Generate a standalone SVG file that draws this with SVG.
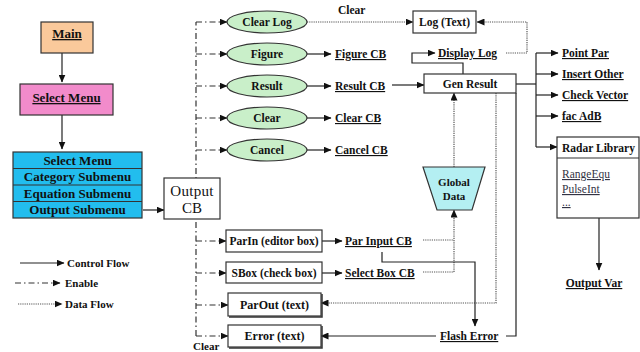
<svg xmlns="http://www.w3.org/2000/svg" width="640" height="352" viewBox="0 0 640 352">
<style>
text{font-family:"Liberation Serif","Times New Roman",serif;fill:#111;}
.b{font-weight:bold;font-size:11.5px;}
.u{text-decoration:underline;}
.m{text-anchor:middle;}
.box{fill:#fff;stroke:#333;stroke-width:1.2;}
.ctl{fill:none;stroke:#222;stroke-width:1.2;}
.en{fill:none;stroke:#333;stroke-width:1.2;stroke-dasharray:6,3,1.5,3;}
.df{fill:none;stroke:#555;stroke-width:1.2;stroke-dasharray:1.2,1;}
.ell{fill:#c9efc9;stroke:#333;stroke-width:1.2;}
.item{font-size:11.5px;fill:#334;text-decoration:underline;}
</style>
<defs>
<marker id="ah" markerWidth="8" markerHeight="7" refX="7.5" refY="3.5" orient="auto" markerUnits="userSpaceOnUse">
<path d="M0,0 L8,3.5 L0,7 Z" fill="#111"/>
</marker>
</defs>
<rect width="640" height="352" fill="#fff"/>

<g id="connectors">
<path class="ctl" d="M62,53 V82" marker-end="url(#ah)"/>
<path class="ctl" d="M62,115 V149" marker-end="url(#ah)"/>
<path class="ctl" d="M143,210 H164" marker-end="url(#ah)"/>
<path class="en" d="M196,336 V22"/>
<path class="en" d="M196,22 H227" marker-end="url(#ah)"/>
<path class="en" d="M196,54 H227" marker-end="url(#ah)"/>
<path class="en" d="M196,86 H227" marker-end="url(#ah)"/>
<path class="en" d="M196,118 H227" marker-end="url(#ah)"/>
<path class="en" d="M196,150 H227" marker-end="url(#ah)"/>
<path class="en" d="M196,241 H226" marker-end="url(#ah)"/>
<path class="en" d="M196,273 H226" marker-end="url(#ah)"/>
<path class="en" d="M196,305 H228" marker-end="url(#ah)"/>
<path class="en" d="M196,336 H228" marker-end="url(#ah)"/>
<path class="df" d="M307,22 H413" marker-end="url(#ah)"/>
<path class="ctl" d="M307,54 H331" marker-end="url(#ah)"/>
<path class="ctl" d="M307,86 H331" marker-end="url(#ah)"/>
<path class="ctl" d="M307,118 H331" marker-end="url(#ah)"/>
<path class="ctl" d="M307,150 H331" marker-end="url(#ah)"/>
<path class="ctl" d="M392,85 H424" marker-end="url(#ah)"/>
<path class="ctl" d="M463,74 V63 H412 V53 H435" marker-end="url(#ah)"/>
<path class="df" d="M506,53 H527 V22 H477" marker-end="url(#ah)"/>
<path class="ctl" d="M516,84 H536"/>
<path class="ctl" d="M536,53 V147"/>
<path class="ctl" d="M536,53 H558" marker-end="url(#ah)"/>
<path class="ctl" d="M536,74 H558" marker-end="url(#ah)"/>
<path class="ctl" d="M536,95 H558" marker-end="url(#ah)"/>
<path class="ctl" d="M536,116 H558" marker-end="url(#ah)"/>
<path class="ctl" d="M536,147 H557" marker-end="url(#ah)"/>
<path class="ctl" d="M599,218 V270" marker-end="url(#ah)"/>
<path class="df" d="M454,167 V93" marker-end="url(#ah)"/>
<path class="df" d="M454,272 V210" marker-end="url(#ah)"/>
<path class="df" d="M423,240 H454"/>
<path class="df" d="M423,272 H454"/>
<path class="df" d="M496,93 V303 H321" marker-end="url(#ah)"/>
<path class="ctl" d="M516,93 V336 H506"/>
<path class="ctl" d="M436,336 H321" marker-end="url(#ah)"/>
<path class="ctl" d="M382,252 V262 H475 V326" marker-end="url(#ah)"/>
<path class="ctl" d="M322,241 H342" marker-end="url(#ah)"/>
<path class="ctl" d="M322,273 H342" marker-end="url(#ah)"/>
<path class="ctl" d="M20,263 H64" marker-end="url(#ah)"/>
<path class="en" d="M15,283 H60" marker-end="url(#ah)"/>
<path class="df" d="M18,304 H62" marker-end="url(#ah)"/>
</g>

<g id="main">
<rect x="41" y="22" width="52" height="31" fill="#fac99b" stroke="#333" stroke-width="1.2"/>
<text class="b u m" x="67" y="38" style="font-size:13px">Main</text>
</g>
<g id="select-menu">
<rect x="20" y="84" width="93" height="31" fill="#f28bcb" stroke="#333" stroke-width="1.2"/>
<text class="b u m" x="66.5" y="102" style="font-size:13px">Select Menu</text>
</g>
<g id="menu-stack">
<rect x="13" y="152" width="129" height="66" fill="#22bdee" stroke="#333" stroke-width="1.2"/>
<path d="M13,168.5 H142 M13,185 H142 M13,201.5 H142" stroke="#333" stroke-width="1.2"/>
<text class="b m" x="77.5" y="165" style="font-size:13px">Select Menu</text>
<text class="b m" x="77.5" y="181" style="font-size:13px">Category Submenu</text>
<text class="b m" x="77.5" y="198" style="font-size:13px">Equation Submenu</text>
<text class="b m" x="77.5" y="214" style="font-size:13px">Output Submenu</text>
</g>
<g id="output-cb">
<rect class="box" x="164" y="178" width="56" height="41"/>
<text class="m" x="192" y="196" style="font-size:15px;letter-spacing:0.3px">Output</text>
<text class="m" x="192" y="213" style="font-size:15px">CB</text>
</g>

<g id="clear-log"><ellipse class="ell" cx="267" cy="22" rx="40" ry="11"/><text class="b m" x="267" y="26">Clear Log</text></g>
<g id="figure"><ellipse class="ell" cx="267" cy="54" rx="40" ry="11"/><text class="b m" x="267" y="58">Figure</text></g>
<g id="result"><ellipse class="ell" cx="267" cy="86" rx="40" ry="11"/><text class="b m" x="267" y="90">Result</text></g>
<g id="clear"><ellipse class="ell" cx="267" cy="118" rx="40" ry="11"/><text class="b m" x="267" y="122">Clear</text></g>
<g id="cancel"><ellipse class="ell" cx="267" cy="150" rx="40" ry="11"/><text class="b m" x="267" y="154">Cancel</text></g>

<g id="labels">
<text class="b" x="338" y="14">Clear</text>
<text class="b u" x="335" y="58">Figure CB</text>
<text class="b u" x="335" y="90">Result CB</text>
<text class="b u" x="335" y="122">Clear CB</text>
<text class="b u" x="335" y="154">Cancel CB</text>
<text class="b u" x="438" y="57">Display Log</text>
<text class="b u" x="562" y="57">Point Par</text>
<text class="b u" x="562" y="78">Insert Other</text>
<text class="b u" x="562" y="99">Check Vector</text>
<text class="b u" x="562" y="120">fac AdB</text>
<text class="b u m" x="594" y="287">Output Var</text>
<text class="b u" x="345" y="245">Par Input CB</text>
<text class="b u" x="345" y="277">Select Box CB</text>
<text class="b u" x="440" y="340">Flash Error</text>
<text class="b" x="193" y="350" style="font-size:11px">Clear</text>
<text class="b" x="67" y="267" style="font-size:11px">Control Flow</text>
<text class="b" x="65" y="287" style="font-size:11px">Enable</text>
<text class="b" x="65" y="308" style="font-size:11px">Data Flow</text>
</g>

<g id="log-text">
<rect class="box" x="413" y="11" width="63" height="22"/>
<text class="b m" x="444.5" y="26">Log (Text)</text>
</g>
<g id="gen-result">
<rect class="box" x="424" y="74" width="92" height="19"/>
<text class="b m" x="470" y="88">Gen Result</text>
</g>
<g id="radar-library">
<rect class="box" x="557" y="137" width="82" height="81"/>
<path d="M557,158 H639" stroke="#333" stroke-width="1.2"/>
<text class="b" x="562" y="152">Radar Library</text>
<text class="item" x="562" y="178">RangeEqu</text>
<text class="item" x="562" y="193">PulseInt</text>
<text class="item" x="562" y="206">...</text>
</g>
<g id="global-data">
<polygon points="423,167 485,167 472,210 437,210" fill="#b4eff2" stroke="#333" stroke-width="1.2"/>
<text class="b m" x="454" y="186" style="font-size:11px">Global</text>
<text class="b m" x="454" y="200" style="font-size:11px">Data</text>
</g>
<g id="parin">
<rect class="box" x="226" y="230" width="96" height="22"/>
<text class="b m" x="274" y="245">ParIn (editor box)</text>
</g>
<g id="sbox">
<rect class="box" x="226" y="262" width="96" height="21"/>
<text class="b m" x="274" y="277">SBox (check box)</text>
</g>
<g id="parout">
<rect class="box" x="228" y="293" width="93" height="23"/>
<path d="M229,317 H322 V294" stroke="#333" stroke-width="1.5" fill="none"/>
<text class="b m" x="274.5" y="309" style="font-size:12px">ParOut (text)</text>
</g>
<g id="error">
<rect class="box" x="228" y="325" width="93" height="22"/>
<path d="M229,348 H322 V326" stroke="#333" stroke-width="1.5" fill="none"/>
<text class="b m" x="274.5" y="340" style="font-size:12px">Error (text)</text>
</g>
</svg>
